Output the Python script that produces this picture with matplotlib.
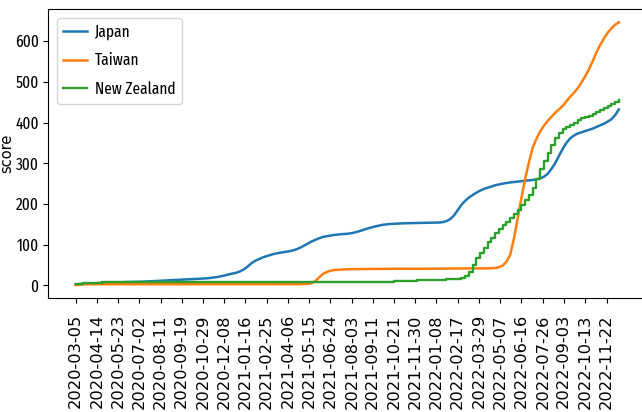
import matplotlib

matplotlib.use("Agg")
import matplotlib.pyplot as plt
import pandas as pd

# weekly cumulative scores, first week starting 2020-03-05
start_date = "2020-03-05"

japan = [
    3, 3.5, 4, 4.5, 5, 5.5, 6, 6.5, 7, 7.3,
    7.6, 7.8, 8, 8.2, 8.4, 8.6, 8.8, 9, 9.4, 9.8,
    10.3, 10.8, 11.3, 11.9, 12.5, 13, 13.5, 14, 14.4, 14.8,
    15.2, 15.6, 16, 16.5, 17, 17.6, 18.5, 19.8, 21, 23,
    25, 27.5, 29.5, 31.5, 35, 40, 47, 55, 61, 65,
    69, 72, 75, 77.5, 79.5, 81, 82.5, 84, 86, 89,
    93, 98, 103, 108, 112, 116, 119, 121, 122.5, 124,
    125, 126, 126.5, 127.5, 129, 131.5, 134, 137, 140, 142.5,
    145, 147, 149, 150, 151, 151.5, 152, 152.5, 152.8, 153,
    153, 153.2, 153.4, 153.6, 153.8, 154, 154.2, 154.5, 155.5, 158,
    163, 172, 185, 198, 208, 216, 222, 228, 233, 237,
    240, 243, 246, 248, 250, 251.5, 253, 254, 255, 256,
    257, 258, 259, 260.5, 263, 267, 274, 286, 300, 318,
    335, 350, 361, 368, 373, 376, 379, 382, 385, 389,
    393, 397, 402, 408, 418, 432,
]

taiwan = [
    1, 2, 2.5, 3, 3, 3, 3, 3, 3, 3,
    3, 3, 3, 3, 3, 3, 3, 3, 3, 3,
    3, 3, 3, 3, 3, 3, 3, 3, 3, 3,
    3, 3, 3, 3, 3, 3, 3, 3, 3, 3,
    3, 3, 3, 3, 3, 3, 3, 3, 3, 3,
    3, 3, 3, 3, 3, 3, 3, 3, 3, 3.2,
    3.4, 3.6, 4, 5.5, 11, 20, 28, 33, 36, 38,
    38.5, 39, 39.5, 40, 40, 40, 40.2, 40.4, 40.5, 40.6,
    40.7, 40.8, 40.9, 41, 41, 41, 41, 41, 41, 41,
    41, 41, 41, 41, 41, 41, 41, 41.2, 41.4, 41.5,
    41.6, 41.7, 41.8, 41.9, 42, 42, 42, 42, 42, 42,
    42, 42.5, 43, 45, 49, 58, 75, 115, 165, 215,
    262, 302, 338, 360, 378, 392, 404, 414, 424, 432,
    441, 452, 463, 473, 484, 498, 513, 530, 550, 572,
    590, 606, 620, 631, 640, 646,
]

new_zealand = [
    3, 4, 5, 6, 6.5, 7, 7, 7.5, 7.5, 7.5,
    7.5, 7.5, 7.5, 7.5, 7.5, 7.5, 7.5, 7.5, 7.5, 7.5,
    7.5, 7.5, 7.5, 7.5, 7.5, 7.5, 7.5, 7.5, 7.5, 7.5,
    7.5, 7.5, 7.5, 7.5, 7.5, 7.5, 7.5, 7.5, 7.5, 7.5,
    7.5, 7.5, 7.5, 7.5, 7.5, 7.5, 7.5, 7.5, 7.5, 7.5,
    7.5, 7.5, 7.5, 7.5, 7.5, 7.5, 8, 8, 8, 8,
    8, 8, 8, 8, 8, 8, 8, 8, 8, 8,
    8, 8, 8, 8, 8, 8, 8, 8.5, 8.5, 8.5,
    8.5, 9, 9, 9.5, 9.5, 10, 10, 10.5, 11, 12,
    12, 12.5, 13, 13, 13.5, 13.5, 14, 14, 14.5, 15,
    15.5, 16, 17, 18, 24, 32, 50, 68, 80, 93,
    106, 117, 128, 139, 148, 157, 166, 175, 186, 197,
    210, 222, 240, 262, 285, 305, 325, 345, 362, 374,
    384, 390, 394, 399, 405, 410, 413, 417, 421, 425,
    430, 435, 440, 445, 450, 455,
]

tick_labels = [
    "2020-03-05", "2020-04-14", "2020-05-23", "2020-07-02", "2020-08-11",
    "2020-09-19", "2020-10-29", "2020-12-08", "2021-01-16", "2021-02-25",
    "2021-04-06", "2021-05-15", "2021-06-24", "2021-08-03", "2021-09-11",
    "2021-10-21", "2021-11-30", "2022-01-08", "2022-02-17", "2022-03-29",
    "2022-05-07", "2022-06-16", "2022-07-26", "2022-09-03", "2022-10-13",
    "2022-11-22",
]


def weekly_dates(values):
    return pd.date_range(start_date, periods=len(values), freq="7D")


narrow = ["Fira Sans Extra Condensed", "DejaVu Sans"]

fig = plt.figure(figsize=(6.42, 4.12), dpi=100)
ax = fig.add_axes([0.0755, 0.2762, 0.9307, 0.7015])

ax.plot(weekly_dates(japan), japan, color="#1f77b4", linewidth=1.8, label="Japan")
ax.plot(weekly_dates(taiwan), taiwan, color="#ff7f0e", linewidth=1.8, label="Taiwan")
ax.plot(weekly_dates(new_zealand), new_zealand, color="#2ca02c", linewidth=1.7,
        drawstyle="steps-post", label="New Zealand")

ax.set_xticks(pd.to_datetime(tick_labels))
ax.set_xticklabels(tick_labels, rotation=90, fontsize=11.7, family="DejaVu Sans")
ax.tick_params(axis="x", pad=8)
ax.set_yticks([0, 100, 200, 300, 400, 500, 600])
for lbl in ax.get_yticklabels():
    lbl.set_family(narrow)
    lbl.set_fontsize(12)
ax.set_ylabel("score", fontsize=10.5)
ax.yaxis.set_label_coords(-0.058, 0.5)

ax.legend(loc="upper left", prop={"family": narrow, "size": 12},
          handlelength=1.4, handletextpad=0.5, labelspacing=0.75)

fig.savefig("out.png", dpi=100)
